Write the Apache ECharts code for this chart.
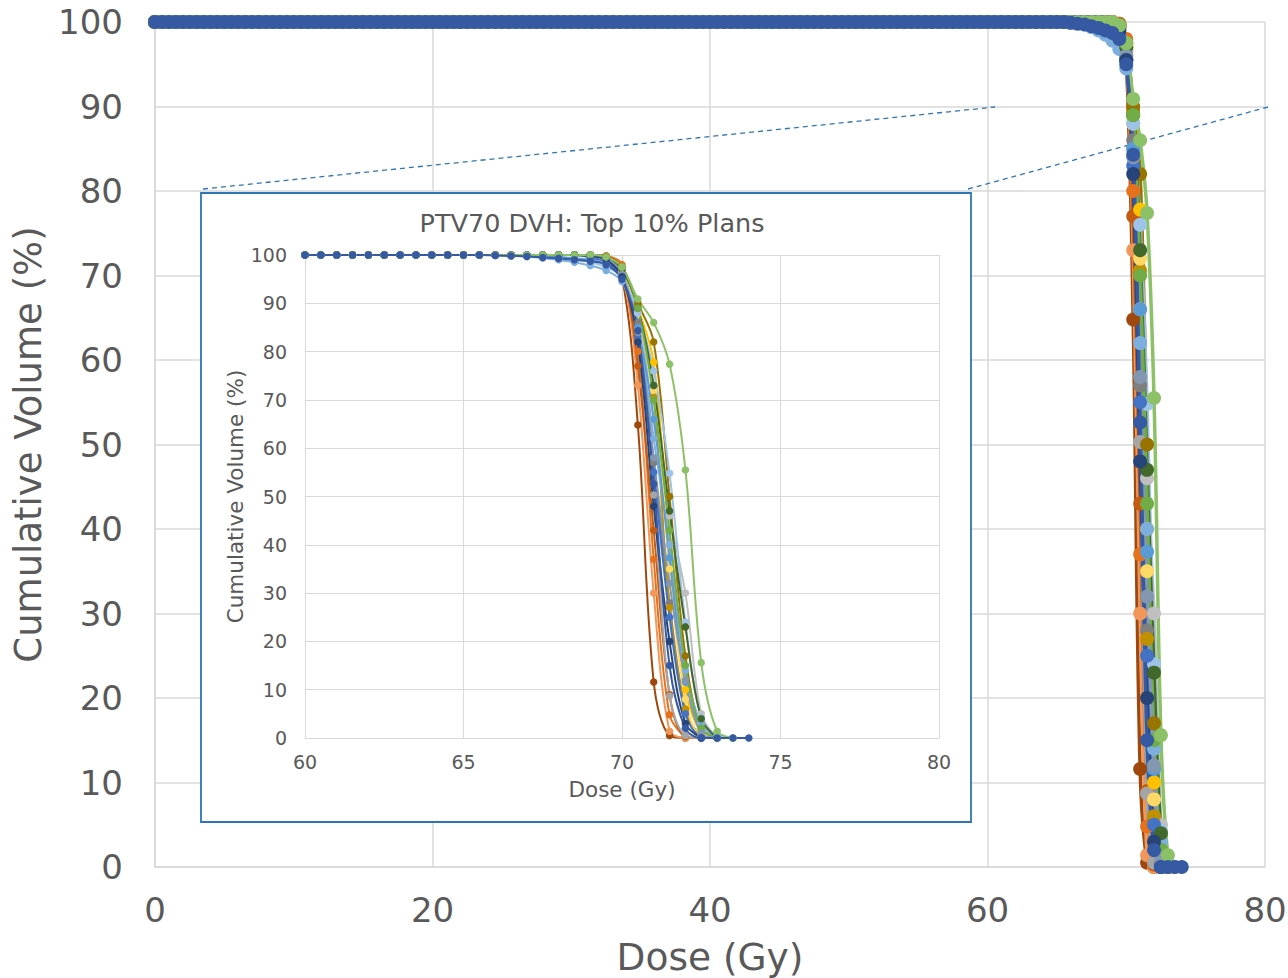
<!DOCTYPE html>
<html><head><meta charset="utf-8">
<script src="https://cdn.jsdelivr.net/npm/echarts@6/dist/echarts.min.js"></script>
<style>html,body{margin:0;padding:0;background:#fff}#c{width:1288px;height:978px}</style>
</head><body><div id="c"></div>
<script>
// ---- data ----
const doseStep = 0.5;          // Gy between DVH points
const tailStartDose = 64;      // dose where each plan's tail array begins
// cumulative volume (%) from 0 Gy to 63.5 Gy (identical for every plan)
const plateauVolume = [
100,100,100,100,100,100,100,100,100,100,100,100,100,100,100,100,
100,100,100,100,100,100,100,100,100,100,100,100,100,100,100,100,
100,100,100,100,100,100,100,100,100,100,100,100,100,100,100,100,
100,100,100,100,100,100,100,100,100,100,100,100,100,100,100,100,
100,100,100,100,100,100,100,100,100,100,100,100,100,100,100,100,
100,100,100,100,100,100,100,100,100,100,100,100,100,100,100,100,
100,100,100,100,100,100,100,100,100,100,100,100,100,100,100,100,
100,100,100,100,100,100,100,100,100,100,100,100,100,100,100,100];

const planNames = ['Plan 1','Plan 2','Plan 3','Plan 4','Plan 5','Plan 6','Plan 7','Plan 8','Plan 9','Plan 10',
  'Plan 11','Plan 12','Plan 13','Plan 14','Plan 15','Plan 16','Plan 17','Plan 18','Plan 19','Plan 20','Plan 21'];
const planColors = ['#9E480E','#E5711D','#F1975A','#C55A11','#A5A5A5','#7F7F7F','#BFBFBF','#BF9000','#FFC000','#997300',
  '#FFD966','#9DC3E6','#7CAFDD','#5B9BD5','#4472C4','#43682B','#70AD47','#8497B0','#264478','#8CC168','#3559A2'];
// cumulative volume (%) from 64 Gy in 0.5 Gy steps
const planTails = [
 [100,100,100,100,100,100,100,100,100,100,100,99.8,95.5,64.8,11.6,0.5,0],
 [100,100,100,100,100,100,100,100,100,100,100,99.8,98,80,37,4.8,0],
 [100,100,100,100,100,100,100,100,100,100,100,99.5,96.5,73,30,1.4,0],
 [100,100,100,100,100,100,100,100,100,100,100,99.6,97,77,43,9,0.3,0],
 [100,100,100,100,100,100,100,100,100,100,99.8,99.2,96.5,85,50.3,8.7,0.5,0],
 [100,100,100,100,100,100,100,100,100,100,99.8,99.3,96,86,57,28,5.8,0],
 [100,100,100,100,100,100,100,100,100,100,99.8,99.4,96.8,88,66,46,30,5,0],
 [100,100,100,100,100,100,100,100,100,100,100,99.6,97,89.6,70.6,27,6,0.5,0],
 [100,100,100,100,100,100,100,100,100,100,100,99.6,97.2,89,77.8,40,10,1,0],
 [100,100,100,100,100,100,100,100,100,100,100,99.7,97.5,90,82,50,17,2,0],
 [100,100,100,100,100,100,100,100,100,100,100,99.5,97,88,72,35,8,0.3,0],
 [100,100,100,100,100,99.9,99.8,99.6,99.3,99,98.5,97.5,95.5,88,76,54.8,24,4.3,0.5,0],
 [100,100,100,100,100,99.9,99.7,99.4,99,98.5,97.8,96.8,94.5,85,62,40,14,3,0],
 [100,100,100,100,100,100,100,99.8,99.6,99.3,99,98,95.5,85,66,37.3,11.6,2,0],
 [100,100,100,100,100,100,100,100,100,100,99.5,98.5,95.5,83,55,25,5,0.3,0],
 [100,100,100,100,100,100,100,100,100,100,100,99.5,97,89,73,47,23,4,0],
 [100,100,100,100,100,100,100,100,100,100,100,99.6,97.5,89,70,43,15,2,0],
 [100,100,100,100,100,100,100,100,100,100,100,99.4,96,84,58,32,12,1,0],
 [100,100,100,100,100,100,100,100,100,100,99.8,99,95.5,82,48,20,3,0],
 [100,100,100,100,100,100,100,100,100,100,100,99.6,97.5,90.9,86,77.4,55.5,15.6,1.4,0],
 [100,100,100,100,99.9,99.8,99.7,99.5,99.3,99,98.7,98,95,84.3,52.6,15,2,0,0,0,0]
];
const mainXRange = [0, 80, 20];
const mainYRange = [0, 100, 10];
const insetXRange = [60, 80, 5];
const insetYRange = [0, 100, 10];
const insetTitle = 'PTV70 DVH: Top 10% Plans';
const xName = 'Dose (Gy)';
const yName = 'Cumulative Volume (%)';

// ---- build ----
function planPoints(tail) {
  const pts = [];
  plateauVolume.forEach((v, i) => pts.push([i * doseStep, v]));
  tail.forEach((v, i) => pts.push([tailStartDose + i * doseStep, v]));
  return pts;
}
const FONT = 'DejaVu Sans';
const TXT = '#595959';
const GRID = '#d9d9d9';

const series = [];
planTails.forEach((tail, k) => {
  const pts = planPoints(tail);
  series.push({
    name: planNames[k], type: 'line', xAxisIndex: 0, yAxisIndex: 0, z: 2,
    data: pts, smooth: 0.35, showAllSymbol: true, symbol: 'circle', symbolSize: 14,
    color: planColors[k], lineStyle: { width: 3.5, color: planColors[k] },
    itemStyle: { color: planColors[k] }, silent: true
  });
});
planTails.forEach((tail, k) => {
  const pts = planPoints(tail).filter(p => p[0] >= insetXRange[0]);
  series.push({
    name: planNames[k], type: 'line', xAxisIndex: 1, yAxisIndex: 1, z: 7,
    data: pts, smooth: 0.35, showAllSymbol: true, symbol: 'circle', symbolSize: 7.5,
    color: planColors[k], lineStyle: { width: 2, color: planColors[k] },
    itemStyle: { color: planColors[k] }, silent: true
  });
});

function axis(gi, rng, o) {
  return Object.assign({
    gridIndex: gi, type: 'value', min: rng[0], max: rng[1], interval: rng[2],
    axisLine: { show: true, lineStyle: { color: GRID, width: gi === 0 ? 1.5 : 1 } },
    axisTick: { show: false },
    splitLine: { show: true, lineStyle: { color: GRID, width: gi === 0 ? 1.5 : 1 } },
    nameLocation: 'middle'
  }, o);
}

const chart = echarts.init(document.getElementById('c'), null, { renderer: 'svg' });
chart.setOption({
  animation: false,
  backgroundColor: '#fff',
  title: {
    text: insetTitle, left: 587, top: 205, textAlign: 'center', z: 8,
    textStyle: { fontFamily: FONT, fontSize: 25.5, fontWeight: 'normal', color: TXT }
  },
  grid: [
    { left: 155, right: 23, top: 22, bottom: 111, outerBoundsMode: 'none', containLabel: false },
    { left: 305, right: 349, top: 255, bottom: 240, outerBoundsMode: 'none', containLabel: false }
  ],
  xAxis: [
    axis(0, mainXRange, {
      axisLabel: { fontFamily: FONT, fontSize: 34, color: TXT, margin: 26 },
      name: xName, nameGap: 71, nameTextStyle: { fontFamily: FONT, fontSize: 37.5, color: TXT }
    }),
    axis(1, insetXRange, {
      z: 6,
      axisLabel: { fontFamily: FONT, fontSize: 19, color: TXT, margin: 14 },
      name: xName, nameGap: 40, nameTextStyle: { fontFamily: FONT, fontSize: 21.5, color: TXT }
    })
  ],
  yAxis: [
    axis(0, mainYRange, {
      axisLabel: { fontFamily: FONT, fontSize: 34, color: TXT, margin: 32 },
      name: yName, nameGap: 106, nameTextStyle: { fontFamily: FONT, fontSize: 37, color: TXT }
    }),
    axis(1, insetYRange, {
      z: 6,
      axisLabel: { fontFamily: FONT, fontSize: 19, color: TXT, margin: 18 },
      name: yName, nameGap: 59, nameTextStyle: { fontFamily: FONT, fontSize: 21.5, color: TXT }
    })
  ],
  graphic: [
    { type: 'line', z: 1, shape: { x1: 203, y1: 189, x2: 995, y2: 107 },
      style: { stroke: '#2E75B6', lineWidth: 1.3, lineDash: [5, 4] } },
    { type: 'line', z: 1, shape: { x1: 968, y1: 189, x2: 1268, y2: 107 },
      style: { stroke: '#2E75B6', lineWidth: 1.3, lineDash: [5, 4] } },
    { type: 'rect', z: 5, shape: { x: 201, y: 193, width: 770, height: 629 },
      style: { fill: '#fff', stroke: '#2E75B6', lineWidth: 1.8 } }
  ],
  series: series
});
</script></body></html>
